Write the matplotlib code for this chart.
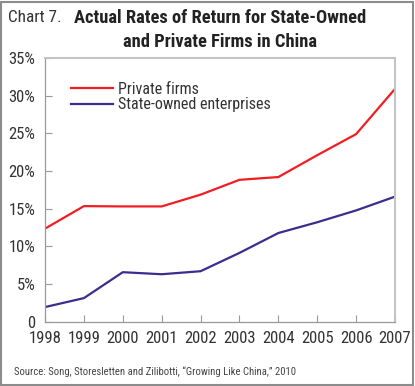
import matplotlib
matplotlib.use("Agg")
import matplotlib.pyplot as plt
from matplotlib.patches import Rectangle
from matplotlib import font_manager

years = ["1998", "1999", "2000", "2001", "2002", "2003", "2004", "2005", "2006", "2007"]
private_firms = [12.35, 15.34, 15.3, 15.3, 16.86, 18.83, 19.2, 22.1, 24.9, 30.9]
state_owned = [1.94, 3.13, 6.57, 6.3, 6.7, 9.13, 11.77, 13.2, 14.77, 16.6]
ytick_vals = [0, 5, 10, 15, 20, 25, 30, 35]
ytick_labels = ["0", "5%", "10%", "15%", "20%", "25%", "30%", "35%"]

names = {f.name for f in font_manager.fontManager.ttflist}
fams = [n for n in ['Roboto Condensed', 'Liberation Sans Narrow', 'Roboto'] if n in names] + ['DejaVu Sans']
plt.rcParams['font.family'] = fams

W, H = 415, 386
fig = plt.figure(figsize=(W / 100, H / 100), dpi=100)

ax = fig.add_axes([45 / W, 1 - 321.7 / H, 350 / W, (321.7 - 58) / H])

x = list(range(len(years)))
red = "#f21d23"
blue = "#3b2d8f"
ax.plot(x, private_firms, color=red, lw=1.6, label="Private firms")
ax.plot(x, state_owned, color=blue, lw=1.6, label="State-owned enterprises")

ax.set_xlim(0, len(years) - 1)
ax.set_ylim(0, 35)
ax.set_xticks(x)
ax.set_xticklabels(years)
ax.set_yticks(ytick_vals)
ax.set_yticklabels(ytick_labels)
ax.tick_params(axis='both', direction='in', length=5, width=0.8, color="#999999",
               labelsize=12, labelcolor="#333333")
ax.tick_params(axis='x', pad=7)
ax.tick_params(axis='y', pad=7)
for s in ['left', 'bottom']:
    ax.spines[s].set_color("#999999")
    ax.spines[s].set_linewidth(0.9)
for s in ['top', 'right']:
    ax.spines[s].set_color("#c4c4c4")
    ax.spines[s].set_linewidth(1.5)

leg = ax.legend(loc='upper left', bbox_to_anchor=(0.055, 0.935), frameon=False,
                fontsize=11.5, handlelength=2.65, handletextpad=0.3, labelspacing=0.05,
                borderaxespad=0)
for t in leg.get_texts():
    t.set_color("#333333")

fig.patches.append(Rectangle((1 / W, 1 / H), (W - 3) / W, (H - 3) / H, transform=fig.transFigure,
                             fill=False, edgecolor="#8c8c8c", lw=1.5))

fig.text(8 / W, 1 - 18 / H, "Chart 7.", fontsize=12.3, color="#333333", va='center', ha='left')
fig.text(220 / W, 1 - 18 / H, "Actual Rates of Return for State-Owned", fontsize=13.3,
         fontweight='bold', color="#222222", va='center', ha='center')
fig.text(220 / W, 1 - 42 / H, "and Private Firms in China", fontsize=13.3,
         fontweight='bold', color="#222222", va='center', ha='center')
fig.text(14 / W, 1 - 372 / H, "Source: Song, Storesletten and Zilibotti, \u201cGrowing Like China,\u201d 2010",
         fontsize=7.7, color="#444444", va='center', ha='left')

fig.savefig("out.png", dpi=100)
